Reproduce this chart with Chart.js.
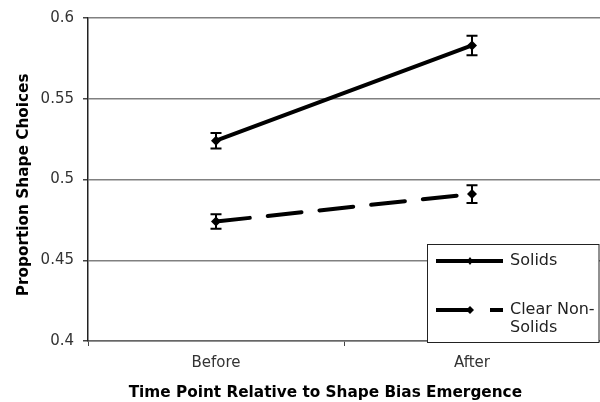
<!DOCTYPE html>
<html>
<head>
<meta charset="utf-8">
<script src="https://cdn.jsdelivr.net/npm/chart.js@4.4.1/dist/chart.umd.min.js"></script>
<style>
  html, body { margin: 0; padding: 0; background: #fff; }
  #wrap { width: 600px; height: 402px; }
</style>
</head>
<body>
<div id="wrap"><canvas id="c" width="600" height="402"></canvas></div>
<script>
const categories = ['Before', 'After'];
const seriesNames = ['Solids', 'Clear Non-Solids'];
const solids = [0.524, 0.583];
const solidsErr = [0.0048, 0.006];
const clearNonSolids = [0.474, 0.491];
const clearNonSolidsErr = [0.0045, 0.0055];
const yTicks = [0.4, 0.45, 0.5, 0.55, 0.6];

const FONT = "'DejaVu Sans', Verdana, sans-serif";

const errorBars = {
  id: 'errorBars',
  afterDatasetsDraw(chart) {
    const ctx = chart.ctx;
    const xs = chart.scales.x, ys = chart.scales.y;
    ctx.save();
    ctx.strokeStyle = '#000';
    ctx.lineWidth = 2;
    chart.data.datasets.forEach(ds => {
      ds.data.forEach((v, i) => {
        const e = ds.errors[i];
        const x = xs.getPixelForValue(i);
        const yt = ys.getPixelForValue(v + e);
        const yb = ys.getPixelForValue(v - e);
        ctx.beginPath();
        ctx.moveTo(x, yt); ctx.lineTo(x, yb);
        ctx.moveTo(x - 5.5, yt); ctx.lineTo(x + 5.5, yt);
        ctx.moveTo(x - 5.5, yb); ctx.lineTo(x + 5.5, yb);
        ctx.stroke();
      });
    });
    ctx.restore();
  }
};

const boxLegend = {
  id: 'boxLegend',
  afterDraw(chart) {
    const ctx = chart.ctx;
    const a = chart.chartArea;
    const w = 173, h = 99;
    const L = a.right - w, T = a.bottom - h + 2;
    ctx.save();
    ctx.fillStyle = '#fff';
    ctx.fillRect(L, T, w - 1, h);
    ctx.strokeStyle = '#222';
    ctx.lineWidth = 1;
    ctx.strokeRect(L + 0.5, T + 0.5, w - 1.5, h - 1);
    // Solids
    const y1 = T + 17;
    ctx.strokeStyle = '#000';
    ctx.lineWidth = 4;
    ctx.beginPath(); ctx.moveTo(L + 9, y1); ctx.lineTo(L + 76, y1); ctx.stroke();
    ctx.fillStyle = '#000';
    ctx.beginPath(); ctx.moveTo(L + 43, y1 - 4); ctx.lineTo(L + 46, y1); ctx.lineTo(L + 43, y1 + 4); ctx.lineTo(L + 40, y1); ctx.closePath(); ctx.fill();
    // Clear Non-Solids
    const y2 = T + 66;
    ctx.beginPath(); ctx.moveTo(L + 9, y2); ctx.lineTo(L + 42, y2); ctx.stroke();
    ctx.beginPath(); ctx.moveTo(L + 43, y2 - 4); ctx.lineTo(L + 47, y2); ctx.lineTo(L + 43, y2 + 4); ctx.lineTo(L + 39, y2); ctx.closePath(); ctx.fill();
    ctx.beginPath(); ctx.moveTo(L + 63, y2); ctx.lineTo(L + 76, y2); ctx.stroke();
    ctx.fillStyle = '#222';
    ctx.font = '16px ' + FONT;
    ctx.textBaseline = 'middle';
    ctx.textAlign = 'left';
    ctx.fillText(seriesNames[0], L + 83, y1);
    ctx.fillText('Clear Non-', L + 83, y2);
    ctx.fillText('Solids', L + 83, y2 + 18);
    ctx.restore();
  }
};

new Chart(document.getElementById('c'), {
  type: 'line',
  data: {
    labels: categories,
    datasets: [
      {
        label: seriesNames[0],
        data: solids,
        errors: solidsErr,
        borderColor: '#000',
        backgroundColor: '#000',
        borderWidth: 4,
        pointStyle: 'rectRot',
        pointRadius: 5,
        pointBackgroundColor: '#000',
        pointBorderWidth: 0
      },
      {
        label: seriesNames[1],
        data: clearNonSolids,
        errors: clearNonSolidsErr,
        borderColor: '#000',
        backgroundColor: '#000',
        borderWidth: 4,
        borderDash: [34, 18],
        borderCapStyle: 'round',
        pointStyle: 'rectRot',
        pointRadius: 5,
        pointBackgroundColor: '#000',
        pointBorderWidth: 0
      }
    ]
  },
  options: {
    responsive: false,
    animation: false,
    events: [],
    layout: { autoPadding: false, padding: { top: 18, right: 0, left: 0, bottom: 0 } },
    plugins: { legend: { display: false }, tooltip: { enabled: false } },
    scales: {
      x: {
        type: 'category',
        offset: true,
        grid: { offset: true, drawOnChartArea: false, tickLength: 5, color: '#444', tickColor: '#444' },
        border: { color: '#666', width: 1.5 },
        ticks: { color: '#333', font: { family: FONT, size: 15 }, padding: 8 },
        title: { display: true, text: 'Time Point Relative to Shape Bias Emergence\u00a0\u00a0\u00a0\u00a0\u00a0\u00a0\u00a0', color: '#000', font: { family: FONT, size: 15.3, weight: 'bold' }, padding: { top: 0, bottom: 0 } },
        afterFit(s) { s.height = 61; s.paddingLeft = 0; s.paddingRight = 0; }
      },
      y: {
        min: 0.4,
        max: 0.6,
        afterBuildTicks(s) { s.ticks = yTicks.map(v => ({ value: v })); },
        grid: { color: '#808080', lineWidth: 1.5, tickLength: 5, tickColor: '#444' },
        border: { color: '#222', width: 1.5 },
        ticks: { color: '#333', font: { family: FONT, size: 15 }, padding: 9, callback: v => String(v) },
        title: { display: true, text: 'Proportion Shape Choices\u00a0\u00a0', color: '#000', font: { family: FONT, size: 15.3, weight: 'bold' }, padding: { top: 15, bottom: 0 } },
        afterFit(s) { s.width = 88; }
      }
    }
  },
  plugins: [errorBars, boxLegend]
});
</script>
</body>
</html>
